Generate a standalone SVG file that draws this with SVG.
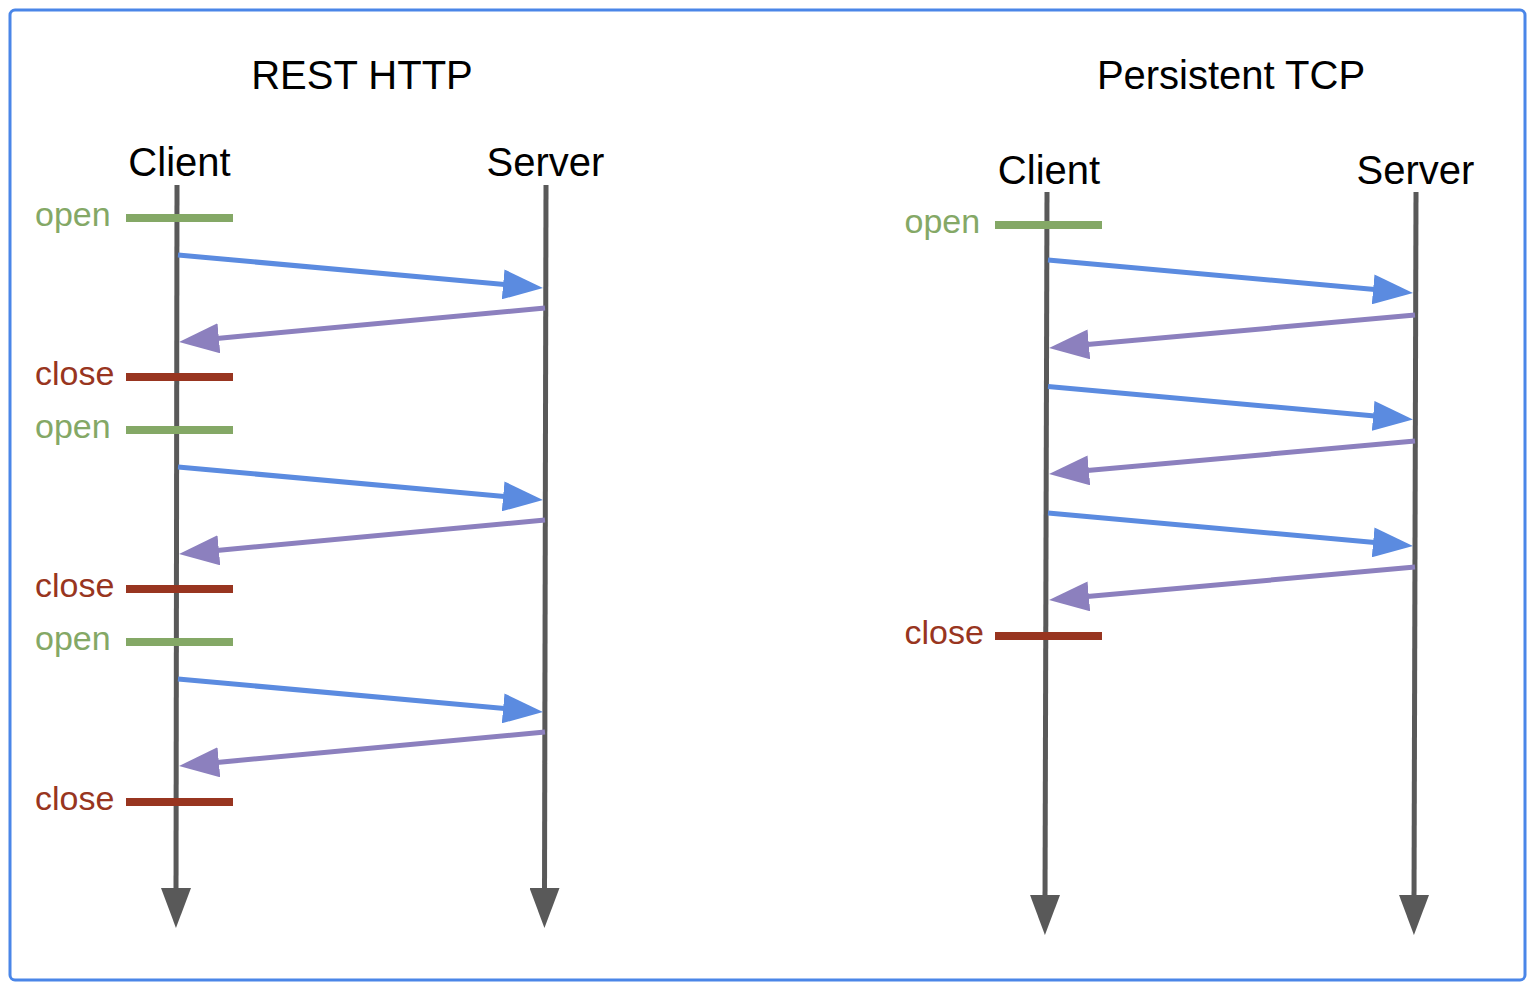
<svg xmlns="http://www.w3.org/2000/svg" width="1534" height="1002" viewBox="0 0 1534 1002">
  <style>
    .title { font-family: "Liberation Sans", Arial, sans-serif; font-size: 40px; fill: #000; text-anchor: middle; }
    .lbl { font-family: "Liberation Sans", Arial, sans-serif; font-size: 34px; }
    .open-t { fill: #84a866; }
    .close-t { fill: #983520; }
    .life { stroke: #595959; stroke-width: 5; fill: none; }
    .open-b { stroke: #84a866; stroke-width: 8; }
    .close-b { stroke: #983520; stroke-width: 8; }
    .req { stroke: #5b8be0; stroke-width: 5; fill: none; }
    .resp { stroke: #8c80be; stroke-width: 5; fill: none; }
  </style>
  <defs>
    <marker id="hGray" markerUnits="userSpaceOnUse" markerWidth="40" markerHeight="30" refX="10" refY="15" orient="auto" viewBox="0 0 40 30">
      <path d="M0,0 L40,15 L0,30 Z" fill="#595959"/>
    </marker>
    <marker id="hBlue" markerUnits="userSpaceOnUse" markerWidth="40" markerHeight="30" refX="10" refY="15" orient="auto" viewBox="0 0 40 30">
      <path d="M0,0 L40,15 L0,30 Z" fill="#5b8be0"/>
    </marker>
    <marker id="hPurple" markerUnits="userSpaceOnUse" markerWidth="40" markerHeight="30" refX="10" refY="15" orient="auto" viewBox="0 0 40 30">
      <path d="M0,0 L40,15 L0,30 Z" fill="#8c80be"/>
    </marker>
  </defs>
  <rect x="0" y="0" width="1534" height="1002" fill="#ffffff"/>
  <rect id="frame" x="10" y="10" width="1515" height="970" rx="5" fill="none" stroke="#4a86e8" stroke-width="3"/>

  <g id="titles">
    <text class="title" x="362" y="89">REST HTTP</text>
    <text class="title" x="1231" y="89">Persistent TCP</text>
  </g>

  <g id="rest-client">
    <text class="title" x="179.5" y="176">Client</text>
    <line class="life" x1="177" y1="185" x2="176" y2="898" marker-end="url(#hGray)"/>
  </g>
  <g id="rest-server">
    <text class="title" x="545.5" y="176">Server</text>
    <line class="life" x1="546" y1="185" x2="544.5" y2="898" marker-end="url(#hGray)"/>
  </g>
  <g id="tcp-client">
    <text class="title" x="1049" y="184">Client</text>
    <line class="life" x1="1047" y1="192" x2="1045" y2="905" marker-end="url(#hGray)"/>
  </g>
  <g id="tcp-server">
    <text class="title" x="1415.5" y="184">Server</text>
    <line class="life" x1="1416" y1="192" x2="1414" y2="905" marker-end="url(#hGray)"/>
  </g>

  <g id="rest-markers">
    <line class="open-b" x1="126" y1="218" x2="233" y2="218"/>
    <text class="lbl open-t" x="35" y="226">open</text>
    <line class="close-b" x1="126" y1="377" x2="233" y2="377"/>
    <text class="lbl close-t" x="35" y="385">close</text>
    <line class="open-b" x1="126" y1="430" x2="233" y2="430"/>
    <text class="lbl open-t" x="35" y="438">open</text>
    <line class="close-b" x1="126" y1="589" x2="233" y2="589"/>
    <text class="lbl close-t" x="35" y="597">close</text>
    <line class="open-b" x1="126" y1="642" x2="233" y2="642"/>
    <text class="lbl open-t" x="35" y="650">open</text>
    <line class="close-b" x1="126" y1="802" x2="233" y2="802"/>
    <text class="lbl close-t" x="35" y="810">close</text>
  </g>

  <g id="tcp-markers">
    <line class="open-b" x1="995" y1="225" x2="1102" y2="225"/>
    <text class="lbl open-t" x="904.5" y="233">open</text>
    <line class="close-b" x1="995" y1="636" x2="1102" y2="636"/>
    <text class="lbl close-t" x="904.5" y="644">close</text>
  </g>

  <g id="connectors">
    <line class="req" x1="178" y1="255" x2="513.1" y2="285.3" marker-end="url(#hBlue)"/>
    <line class="resp" x1="545" y1="308" x2="208.9" y2="339.2" marker-end="url(#hPurple)"/>
    <line class="req" x1="178" y1="467" x2="513.1" y2="497.3" marker-end="url(#hBlue)"/>
    <line class="resp" x1="545" y1="520" x2="208.9" y2="551.2" marker-end="url(#hPurple)"/>
    <line class="req" x1="178" y1="679" x2="513.1" y2="709.3" marker-end="url(#hBlue)"/>
    <line class="resp" x1="545" y1="732" x2="208.9" y2="763.2" marker-end="url(#hPurple)"/>

    <line class="req" x1="1048" y1="260" x2="1383.1" y2="290.3" marker-end="url(#hBlue)"/>
    <line class="resp" x1="1415" y1="315" x2="1078.9" y2="345.3" marker-end="url(#hPurple)"/>
    <line class="req" x1="1048" y1="386.5" x2="1383.1" y2="416.8" marker-end="url(#hBlue)"/>
    <line class="resp" x1="1415" y1="441" x2="1078.9" y2="471.3" marker-end="url(#hPurple)"/>
    <line class="req" x1="1048" y1="513" x2="1383.1" y2="543.3" marker-end="url(#hBlue)"/>
    <line class="resp" x1="1415" y1="567" x2="1078.9" y2="597.3" marker-end="url(#hPurple)"/>
  </g>
</svg>
